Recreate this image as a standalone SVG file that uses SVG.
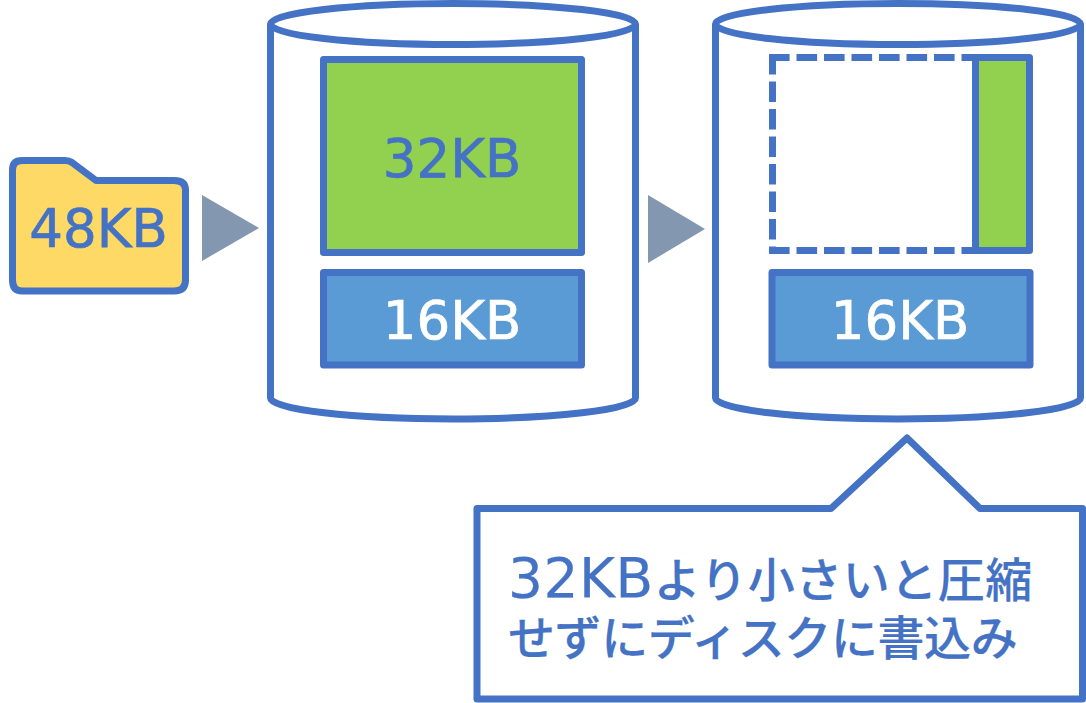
<svg xmlns="http://www.w3.org/2000/svg" width="1086" height="703" viewBox="0 0 1086 703">
<style>
.s{stroke:#4472c4;stroke-width:7;stroke-linejoin:round}
.n{fill:none;stroke:#4472c4;stroke-width:7;stroke-dasharray:20.600 6.900}
.t{font-family:"DejaVu Sans","Noto Sans CJK JP",sans-serif;font-size:53px;text-anchor:middle;stroke-width:.7px}
.b{fill:#4472c4;stroke:#4472c4}.w{fill:#fff;stroke:#fff}
.c{font-family:"DejaVu Sans","Noto Sans CJK JP",sans-serif;font-size:47px;font-weight:500;fill:#4472c4;stroke:#4472c4;stroke-width:.2px}
.l{font-size:55px;font-weight:400}
.a{fill:#8497b0}
</style>
<g id="connectors">
<polygon class="a" points="202,195 259,228 202,261"/>
<polygon class="a" points="648,195 705,229 648,263"/>
</g>
<g id="folder">
<path class="s" fill="#ffd966" d="M22,160.500H65Q69,160.500 72,162.500L96,180.500H174Q185.500,180.500 185.500,190V280Q185.500,291 174,291H22Q12.500,291 12.500,280V170Q12.500,160.500 22,160.500Z"/>
<text class="t b" x="98.500" y="247">48KB</text>
</g>
<g id="disk1">
<path class="s" fill="#fff" d="M270.500,24V398A182.500,21 0 0 0 635.500,398V24"/>
<ellipse class="s" fill="#fff" cx="453" cy="24" rx="182.500" ry="20.500"/>
</g>
<g id="block-32kb">
<rect class="s" fill="#92d050" x="323.500" y="59.500" width="258" height="193"/>
<text class="t b" x="452" y="177">32KB</text>
</g>
<g id="block-16kb-1">
<rect class="s" fill="#5b9bd5" x="323.500" y="272.500" width="258" height="92.500"/>
<text class="t w" x="452" y="339">16KB</text>
</g>
<g id="disk2">
<path class="s" fill="#fff" d="M715.500,24V398A182.500,21 0 0 0 1080.500,398V24"/>
<ellipse class="s" fill="#fff" cx="898" cy="24" rx="182.500" ry="20.500"/>
</g>
<g id="block-dashed">
<path class="n" d="M769,57.500H975M772.500,54V250M769,250.500H975"/>
</g>
<g id="block-compressed">
<path class="s" fill="#92d050" d="M975.500,57.500H1029.500V250.500H975.500Z"/>
</g>
<g id="block-16kb-2">
<rect class="s" fill="#5b9bd5" x="772" y="272.500" width="258" height="92.500"/>
<text class="t w" x="900" y="339">16KB</text>
</g>
<g id="callout">
<path class="s" fill="#fff" d="M477,508.500H831L907,438L980,508.500H1082.500V699H477Z"/>
<text class="c" x="508" y="597" letter-spacing="0.500"><tspan class="l">32KB</tspan>より小さいと圧縮</text>
<text class="c" x="508" y="655" letter-spacing="-0.400">せずにディスクに書込み</text>
</g>
</svg>
